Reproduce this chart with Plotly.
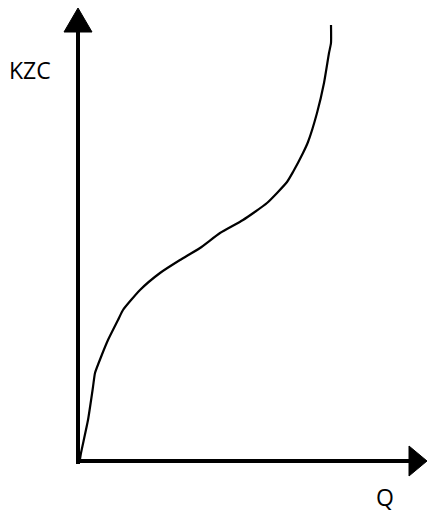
import plotly.graph_objects as go

# Curve data (Q vs KZC), in arbitrary units
q_values = [2, 3, 10, 15, 17, 23, 30, 40, 45, 62, 82, 102, 122, 142, 165, 189, 209, 215, 225, 230, 239, 246, 251, 253, 253]
kzc_values = [2, 8, 41, 74, 88, 104, 121, 141, 151, 171, 188, 201, 213, 228, 241, 258, 279, 289, 308, 319, 348, 378, 408, 418, 436]

x_label = "Q"
y_label = "KZC"

# axis extent (same units)
x_axis_end = 331
x_arrow_tip = 349
y_axis_end = 429
y_arrow_tip = 453

fig = go.Figure()

fig.add_trace(go.Scatter(
    x=q_values, y=kzc_values, mode="lines",
    line=dict(color="black", width=2.2, shape="spline", smoothing=0.5),
    hoverinfo="skip", showlegend=False,
))

shapes = [
    # vertical axis
    dict(type="line", x0=0, y0=-3, x1=0, y1=y_axis_end + 2, line=dict(color="black", width=4), layer="above"),
    # horizontal axis
    dict(type="line", x0=-2, y0=0, x1=x_axis_end + 2, y1=0, line=dict(color="black", width=4), layer="above"),
    # arrowheads
    dict(type="path",
         path=f"M -14,{y_axis_end} L 14,{y_axis_end} L 0,{y_arrow_tip} Z",
         fillcolor="black", line=dict(color="black", width=1), layer="above"),
    dict(type="path",
         path=f"M {x_axis_end},-15 L {x_axis_end},15 L {x_arrow_tip},0 Z",
         fillcolor="black", line=dict(color="black", width=1), layer="above"),
]

annotations = [
    dict(x=-48, y=391, text=y_label, showarrow=False, xanchor="center", yanchor="middle",
         font=dict(family="Open Sans, Liberation Sans, sans-serif", size=23, color="black")),
    dict(x=307, y=-36, text=x_label, showarrow=False, xanchor="center", yanchor="middle",
         font=dict(family="Open Sans, Liberation Sans, sans-serif", size=23, color="black")),
]

fig.update_layout(
    width=428, height=515,
    margin=dict(l=0, r=0, t=0, b=0),
    paper_bgcolor="white", plot_bgcolor="white",
    xaxis=dict(range=[-78, 350], visible=False, fixedrange=True),
    yaxis=dict(range=[-54, 461], visible=False, fixedrange=True),
    shapes=shapes, annotations=annotations,
    showlegend=False,
)

fig.write_html("out.html", config={"displayModeBar": False},
               post_script="document.body.style.margin='0';document.body.style.overflow='hidden';")
